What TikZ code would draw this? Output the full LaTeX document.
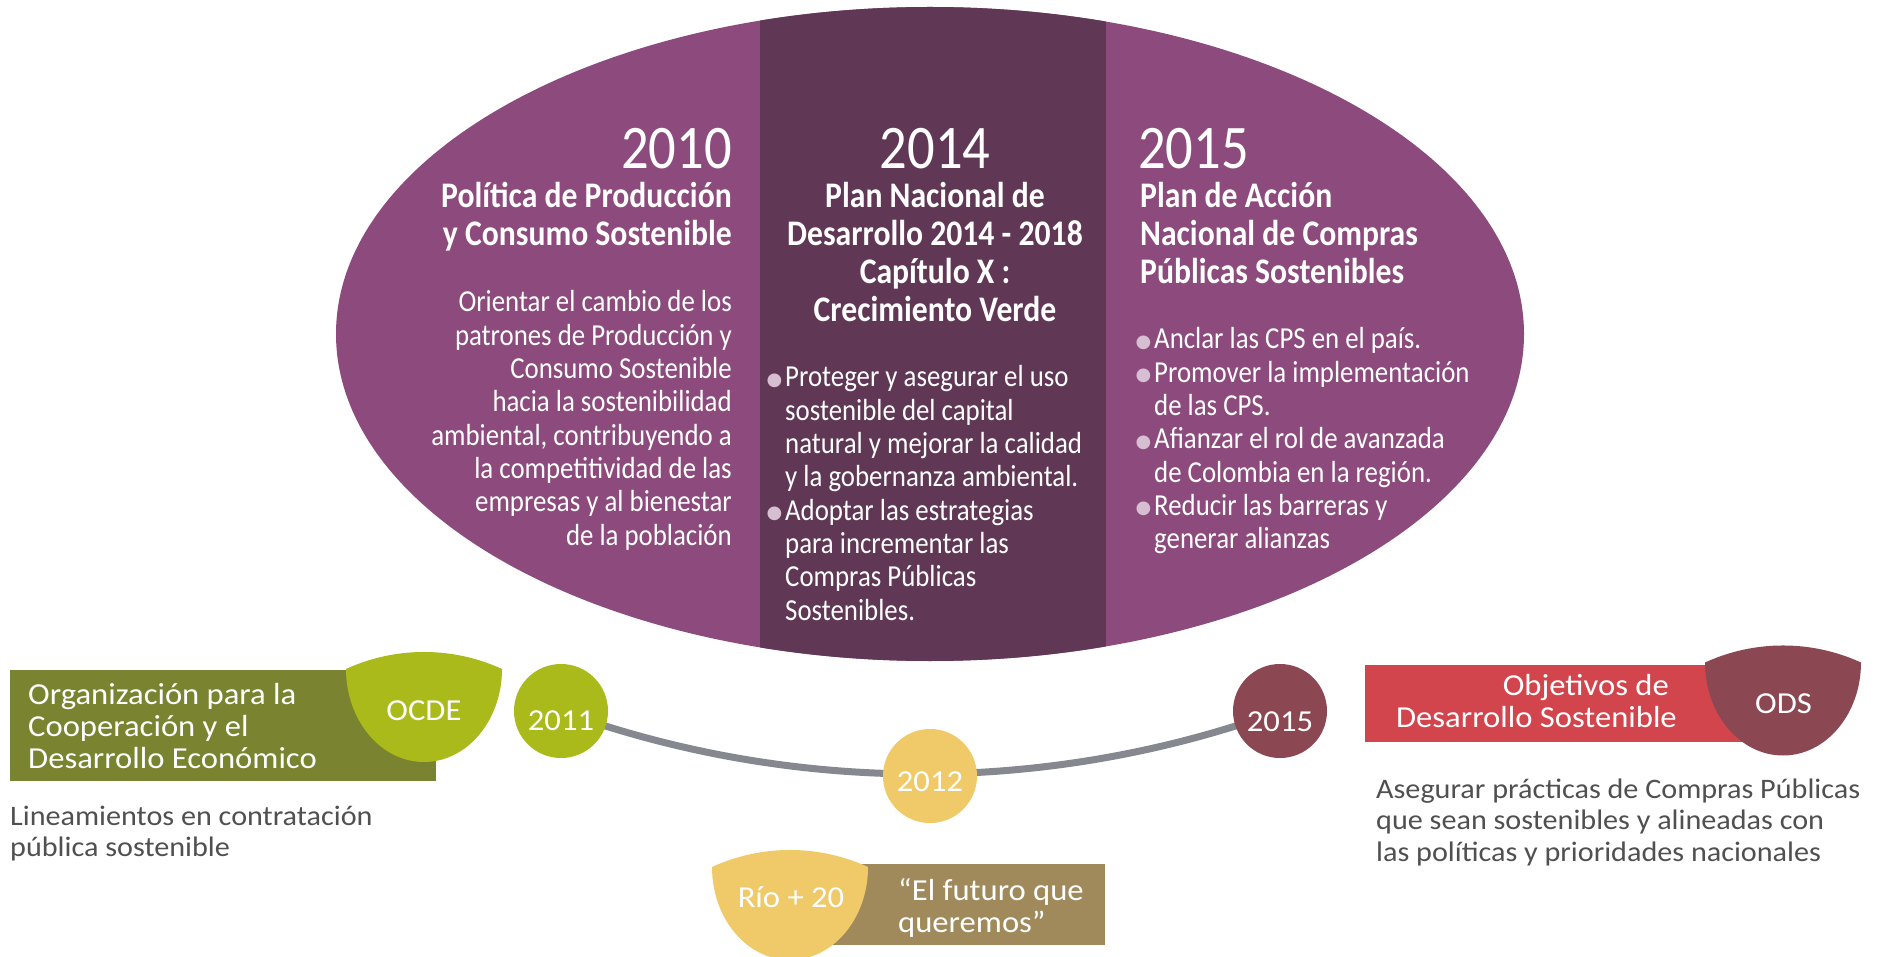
\documentclass[tikz,border=0pt]{standalone}
\usepackage{fontspec}
\setmainfont{Carlito}
\newfontfamily\elfont[FakeStretch=0.88]{Carlito}
\newfontfamily\botfont[FakeStretch=1.07]{Carlito}
\newfontfamily\dejavu{DejaVu Sans}
\usetikzlibrary{backgrounds}
\definecolor{purp}{HTML}{8C4B7C}
\definecolor{darkp}{HTML}{603856}
\definecolor{bulc}{HTML}{D6BFD1}
\definecolor{olivec}{HTML}{7A8330}
\definecolor{limec}{HTML}{AABA1A}
\definecolor{goldc}{HTML}{F0C968}
\definecolor{khakic}{HTML}{A08A5C}
\definecolor{winec}{HTML}{8C4852}
\definecolor{redc}{HTML}{D2454D}
\definecolor{linegray}{HTML}{85898F}
\definecolor{txtgray}{HTML}{505050}
\newcommand\bul{\leavevmode\llap{\raisebox{1.5pt}{\textcolor{bulc}{\dejavu\fontsize{18}{18}\selectfont ●}}\kern3pt}}
\newcommand\leafshape{(-78,0) .. controls (-78,51.4) and (-43.1,93) .. (0,93) .. controls (43.1,93) and (78,51.4) .. (78,0) .. controls (28.5,-22.7) and (-28.5,-22.7) .. cycle}
\newcommand\bR[1]{\begin{minipage}[t]{420pt}\raggedleft #1\end{minipage}}
\newcommand\bL[1]{\begin{minipage}[t]{520pt}\raggedright #1\end{minipage}}
\newcommand\bC[1]{\begin{minipage}[t]{400pt}\centering #1\end{minipage}}
\tikzset{
  yrs/.style={font=\elfont\fontsize{62}{62}\selectfont, text=white, inner sep=0pt},
  ttl/.style={font=\elfont\bfseries\fontsize{36}{37.7}\selectfont, text=white, inner sep=0pt},
  bdy/.style={font=\elfont\fontsize{30.5}{33.3}\selectfont, text=white, inner sep=0pt},
  lab/.style={font=\botfont\fontsize{30.5}{32}\selectfont, text=white, inner sep=0pt},
  desc/.style={font=\botfont\fontsize{28.2}{31.5}\selectfont, text=txtgray, inner sep=0pt},
  yeardot/.style={circle, minimum size=94pt, inner sep=0pt},
}
\begin{document}
\begin{tikzpicture}[x=1pt,y=-1pt]
\useasboundingbox (0,0) rectangle (1885,957);
% big ellipse
\fill[purp] (930,334) ellipse [x radius=594pt, y radius=327pt];
\begin{scope}
\clip (930,334) ellipse [x radius=594pt, y radius=327pt];
\fill[darkp] (760,0) rectangle (1106,700);
\end{scope}
% 2010 column
\node[yrs, anchor=base east] (y2010) at (732,169) {2010};
\node[ttl, anchor=base east] (t2010) at (732,208) {\bR{Política de Producción\\y Consumo Sostenible}};
\node[bdy, anchor=base east] (b2010) at (732,312) {\bR{Orientar el cambio de los\\patrones de Producción y\\Consumo Sostenible\\hacia la sostenibilidad\\ambiental, contribuyendo a\\la competitividad de las\\empresas y al bienestar\\de la población}};
% 2014 column
\node[yrs, anchor=base] (y2014) at (935,169) {2014};
\node[ttl, anchor=base] (t2014) at (935,208) {\bC{Plan Nacional de\\Desarrollo 2014 - 2018\\Capítulo X :\\Crecimiento Verde}};
\node[bdy, anchor=base west] (b2014) at (785,387) {\bL{\bul Proteger y asegurar el uso\\sostenible del capital\\natural y mejorar la calidad\\y la gobernanza ambiental.\\\bul Adoptar las estrategias\\para incrementar las\\Compras Públicas\\Sostenibles.}};
% 2015 column
\node[yrs, anchor=base west] (y2015) at (1138,169) {2015};
\node[ttl, anchor=base west] (t2015) at (1140,208) {\bL{Plan de Acción\\Nacional de Compras\\Públicas Sostenibles}};
\node[bdy, anchor=base west] (b2015) at (1154,349) {\bL{\bul Anclar las CPS en el país.\\\bul Promover la implementación\\de las CPS.\\\bul Afianzar el rol de avanzada\\de Colombia en la región.\\\bul Reducir las barreras y\\generar alianzas}};
% OCDE
\fill[olivec] (10,670) rectangle (436,781);
\fill[limec, shift={(424,669)}] \leafshape;
\node[lab, anchor=base west] (ocdebox) at (28,704) {\bL{Organización para la\\Cooperación y el\\Desarrollo Económico}};
\node[lab, anchor=base] (ocde) at (424,720) {OCDE};
\node[desc, anchor=base west] (ocdetxt) at (10,825) {\bL{Lineamientos en contratación\\pública sostenible}};
% Rio + 20
\fill[khakic] (830,864) rectangle (1105,945);
\fill[goldc, shift={(790,867)}] \leafshape;
\node[lab, anchor=base] (rio) at (791,907) {Río + 20};
\node[lab, anchor=base west] (futuro) at (898,900) {\bL{“El futuro que\\queremos”}};
% ODS
\fill[redc] (1365,665) rectangle (1760,742);
\fill[winec, shift={(1783,662.5)}] \leafshape;
\node[lab, anchor=base] (ods) at (1783.5,713) {ODS};
\node[lab, anchor=base east] (odsbox) at (1677,695) {\bR{Objetivos de\kern8pt\\Desarrollo Sostenible}};
\node[desc, anchor=base west] (odstxt) at (1376,798) {\bL{Asegurar prácticas de Compras Públicas\\que sean sostenibles y alineadas con\\las políticas y prioridades nacionales}};
% timeline
\node[yeardot, fill=limec] (n2011) at (561,711) {};
\node[yeardot, fill=goldc] (n2012) at (930,776) {};
\node[yeardot, fill=winec] (n2015) at (1280,711) {};
\node[lab, anchor=base] (l2011) at (561,730) {2011};
\node[lab, anchor=base] (l2012) at (930,791) {2012};
\node[lab, anchor=base] (l2015) at (1280,731) {2015};
\begin{scope}[on background layer]
\fill[white] (0,0) rectangle (1885,957);
\draw[linegray, line width=7pt] (n2011.center) .. controls +(232,84) and +(-232,84) .. (n2015.center);
\end{scope}
\end{tikzpicture}
\end{document}
